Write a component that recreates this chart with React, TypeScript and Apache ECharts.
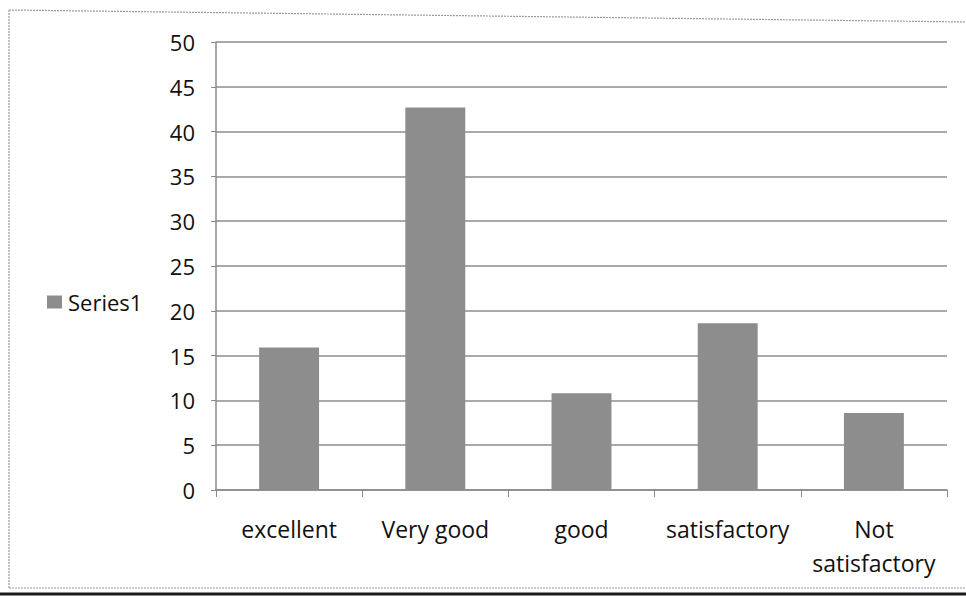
import React, { useEffect, useRef } from "react";
import * as echarts from "echarts";

const categories = ["excellent", "Very good", "good", "satisfactory", "Not\nsatisfactory"];
const series1 = [15.9, 42.7, 10.8, 18.6, 8.6];
const seriesName = "Series1";
const yMin = 0;
const yMax = 50;
const yStep = 5;

export default function App() {
  const ref = useRef<HTMLDivElement>(null);
  useEffect(() => {
    if (!ref.current) return;
    const chart = echarts.init(ref.current, null, { renderer: "svg" });
    const font = "'Open Sans', 'Liberation Sans', sans-serif";
    const borderStyle = { stroke: "#9a9a9a", lineWidth: 1.2, lineDash: [2, 1] };
    chart.setOption({
      animation: false,
      backgroundColor: "#ffffff",
      textStyle: { fontFamily: font },
      graphic: [
        { type: "line", silent: true, shape: { x1: 9, y1: 10, x2: 966, y2: 22 }, style: borderStyle },
        { type: "line", silent: true, shape: { x1: 9, y1: 10, x2: 9, y2: 588 }, style: borderStyle },
        { type: "line", silent: true, shape: { x1: 9, y1: 588, x2: 966, y2: 588 }, style: borderStyle },
        { type: "line", silent: true, shape: { x1: 0, y1: 594, x2: 966, y2: 594 }, style: { stroke: "#1a1a1a", lineWidth: 3 } },
      ],
      legend: {
        show: true,
        left: 42,
        top: 286,
        orient: "vertical",
        icon: "rect",
        itemWidth: 15,
        itemHeight: 13,
        itemGap: 4,
        textStyle: { fontSize: 22, color: "#111", fontFamily: font, padding: [0, 0, 0, 1] },
        data: [seriesName],
      },
      grid: { left: 216, right: 19, top: 42, bottom: 108, containLabel: false },
      xAxis: {
        type: "category",
        data: categories,
        axisLine: { show: true, lineStyle: { color: "#8a8a8a", width: 1.5 } },
        axisTick: { show: true, length: 7, inside: false, lineStyle: { color: "#8a8a8a" } },
        axisLabel: { fontSize: 23, color: "#111", margin: 22, lineHeight: 34, interval: 0, fontFamily: font },
      },
      yAxis: {
        type: "value",
        min: yMin,
        max: yMax,
        interval: yStep,
        axisLine: { show: true, lineStyle: { color: "#8a8a8a", width: 1.5 } },
        axisTick: { show: true, length: 5, lineStyle: { color: "#8a8a8a" } },
        axisLabel: { fontSize: 22, color: "#111", margin: 21, fontFamily: font },
        splitLine: { show: true, lineStyle: { color: "#8c8c8c", width: 1.5 } },
      },
      series: [
        {
          name: seriesName,
          type: "bar",
          data: series1,
          barWidth: "41%",
          itemStyle: { color: "#8d8d8d" },
        },
      ],
    });
    return () => chart.dispose();
  }, []);
  return <div ref={ref} style={{ width: 966, height: 598, position: "absolute", left: 0, top: 0 }} />;
}
